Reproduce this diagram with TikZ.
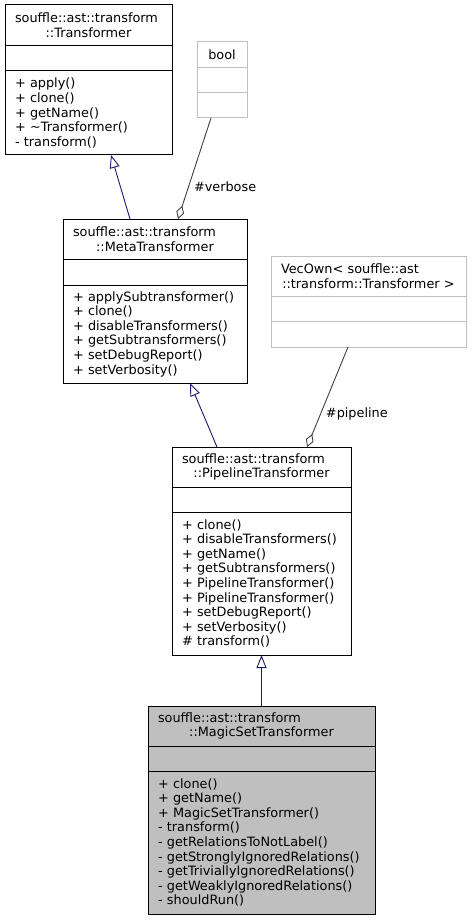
\documentclass[tikz,border=0pt]{standalone}
\usepackage{fontspec}
\setmainfont{DejaVu Sans}
\usepackage{tikz}
\usetikzlibrary{positioning,arrows.meta}
\definecolor{inhblue}{HTML}{191970}
\definecolor{agggray}{HTML}{404040}
\definecolor{grey75}{HTML}{BFBFBF}
\tikzset{
	part/.style={draw=black,line width=1pt,outer sep=0pt,inner xsep=10pt,inner ysep=0pt,
		minimum width=#1,text width=#1-20pt,align=left,font=\fontsize{12.85}{14.6}\selectfont},
	faded/.style={draw=grey75},
	inherit/.style={draw=inhblue,line width=0.9pt,{Triangle[open,length=13pt,width=10pt]}-},
	aggr/.style={draw=agggray,line width=0.9pt,-{Diamond[open,length=14pt,width=8pt]}},
	lbl/.style={font=\fontsize{12.85}{14.6}\selectfont,inner sep=0pt}
}
\newcommand\clshead[2]{\hbox to\hsize{#1\hss}\\\hbox to\hsize{\hss#2\hss}}
\begin{document}
\begin{tikzpicture}[x=1pt,y=-1pt]
	\useasboundingbox (0,0) rectangle (471,920);
	% Transformer
	\node[part=167pt,minimum height=41pt] (trH) at (88.5,25.5) {\clshead{souffle::ast::transform}{::Transformer}};
	\node[part=167pt,minimum height=25pt,below=0pt of trH] (trA) {};
	\node[part=167pt,minimum height=84pt,below=0pt of trA] (trM) {+ apply()\\+ clone()\\+ getName()\\+ \textasciitilde Transformer()\\- transform()};
	% bool
	\node[part=50pt,faded,minimum height=26pt,align=center] (boolH) at (222,55) {bool};
	\node[part=50pt,faded,minimum height=25pt,below=0pt of boolH] (boolA) {};
	\node[part=50pt,faded,minimum height=25pt,below=0pt of boolA] (boolM) {};
	% MetaTransformer
	\node[part=184pt,minimum height=40pt] (metaH) at (155,239) {\clshead{souffle::ast::transform}{::MetaTransformer}};
	\node[part=184pt,minimum height=26pt,below=0pt of metaH] (metaA) {};
	\node[part=184pt,minimum height=98pt,below=0pt of metaA] (metaM) {+ applySubtransformer()\\+ clone()\\+ disableTransformers()\\+ getSubtransformers()\\+ setDebugReport()\\+ setVerbosity()};
	% VecOwn
	\node[part=195pt,faded,minimum height=40pt] (vecH) at (368.5,276) {\clshead{VecOwn< souffle::ast}{::transform::Transformer >}};
	\node[part=195pt,faded,minimum height=25pt,below=0pt of vecH] (vecA) {};
	\node[part=195pt,faded,minimum height=26pt,below=0pt of vecA] (vecM) {};
	% PipelineTransformer
	\node[part=179pt,minimum height=40pt] (pipeH) at (261.5,467) {\clshead{souffle::ast::transform}{::PipelineTransformer}};
	\node[part=179pt,minimum height=25pt,below=0pt of pipeH] (pipeA) {};
	\node[part=179pt,minimum height=143pt,below=0pt of pipeA] (pipeM) {+ clone()\\+ disableTransformers()\\+ getName()\\+ getSubtransformers()\\+ PipelineTransformer()\\+ PipelineTransformer()\\+ setDebugReport()\\+ setVerbosity()\\\# transform()};
	% MagicSetTransformer
	\node[part=227pt,fill=grey75,minimum height=40pt] (magicH) at (261.5,726) {\clshead{souffle::ast::transform}{::MagicSetTransformer}};
	\node[part=227pt,fill=grey75,minimum height=25pt,below=0pt of magicH] (magicA) {};
	\node[part=227pt,fill=grey75,minimum height=143pt,below=0pt of magicA] (magicM) {+ clone()\\+ getName()\\+ MagicSetTransformer()\\- transform()\\- getRelationsToNotLabel()\\- getStronglyIgnoredRelations()\\- getTriviallyIgnoredRelations()\\- getWeaklyIgnoredRelations()\\- shouldRun()};
	% edges
	\draw[inherit] ([xshift=22.5pt]trM.south) -- ([xshift=-25pt]metaH.north);
	\draw[aggr] ([xshift=-11pt]boolM.south) -- ([xshift=23pt]metaH.north) node[lbl,pos=0.68,right=5pt] (verboseL) {\#verbose};
	\draw[inherit] ([xshift=35pt]metaM.south) -- ([xshift=-44.5pt]pipeH.north);
	\draw[aggr] ([xshift=-20.5pt]vecM.south) -- ([xshift=45.5pt]pipeH.north) node[lbl,pos=0.67,right=5pt] (pipelineL) {\#pipeline};
	\draw[inherit] (pipeM.south) -- (magicH.north);
\end{tikzpicture}
\end{document}
